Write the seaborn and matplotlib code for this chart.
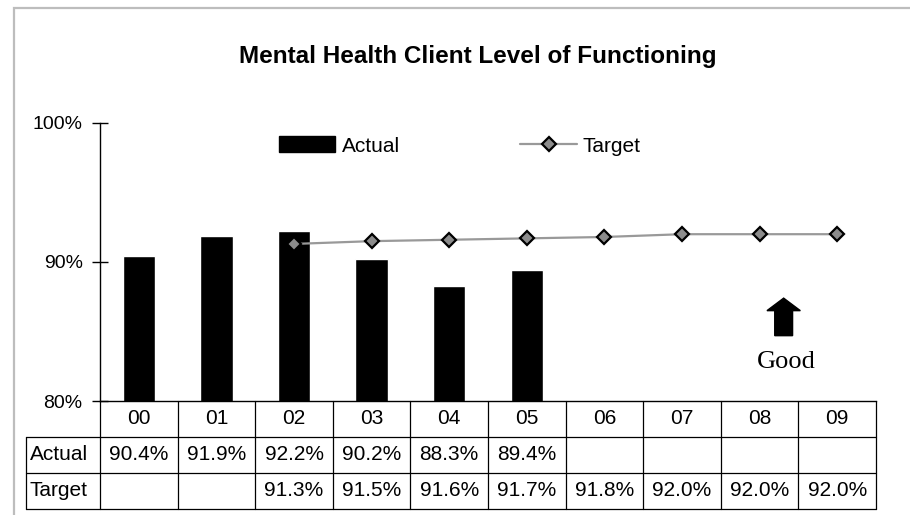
import numpy as np
import pandas as pd
import matplotlib
matplotlib.use("Agg")
import matplotlib.pyplot as plt
import matplotlib.transforms as mtransforms
from matplotlib.patches import Rectangle, Patch, FancyArrow
from matplotlib.lines import Line2D
import seaborn as sns

# ---- data ----
years = ["00", "01", "02", "03", "04", "05", "06", "07", "08", "09"]
actual = [90.4, 91.9, 92.2, 90.2, 88.3, 89.4, None, None, None, None]
target = [None, None, 91.3, 91.5, 91.6, 91.7, 91.8, 92.0, 92.0, 92.0]
y_ticks = [80, 90, 100]
title = "Mental Health Client Level of Functioning"

sns.set_theme(style="white")
plt.rcParams["font.family"] = ["Liberation Sans", "DejaVu Sans"]
plt.rcParams["text.color"] = "black"
plt.rcParams["ytick.color"] = "black"
plt.rcParams["xtick.color"] = "black"
plt.rcParams["ytick.labelcolor"] = "black"

W, H = 910, 515
fig = plt.figure(figsize=(W / 100, H / 100), dpi=100)
fig.patch.set_facecolor("white")


def fx(px):
    return px / W


def fy(py):
    return 1 - py / H


# plot area in pixel layout
AX_L, AX_R, AX_T, AX_B = 100, 876, 123, 401
ax = fig.add_axes([fx(AX_L), fy(AX_B), fx(AX_R - AX_L), (AX_B - AX_T) / H])
ax.set_facecolor("white")

df = pd.DataFrame({"year": years, "actual": actual, "target": target})
df_a = df.dropna(subset=["actual"])
df_t = df.dropna(subset=["target"])

sns.barplot(data=df_a, x="year", y="actual", order=years, color="black",
            width=0.42, saturation=1, ax=ax, zorder=2)
sns.pointplot(data=df_t, x="year", y="target", order=years, color="#999999",
              markers="D", linestyles="-", ax=ax, errorbar=None,
              linewidth=1.6, markersize=7.5, markeredgewidth=1.6)
tline = ax.lines[-1]
tline.set_markerfacecolor("#8c8c8c")
tline.set_markeredgecolor("black")
tline.set_zorder(3)

ax.set_xlim(-0.5, len(years) - 0.5)
ax.set_ylim(80, 100)
ax.set_yticks(y_ticks)
ax.set_yticklabels([f"{v}%" for v in y_ticks])
ax.set_xticks([])
ax.set_xlabel("")
ax.set_ylabel("")
ax.tick_params(axis="y", direction="inout", length=11, width=1, color="black",
               labelcolor="black", labelsize=14, pad=7, left=True)
for s in ["top", "right"]:
    ax.spines[s].set_visible(False)
for s in ["left", "bottom"]:
    ax.spines[s].set_color("black")
    ax.spines[s].set_linewidth(1)

# ---- data table below the axis ----
blend = mtransforms.blended_transform_factory(ax.transData, fig.transFigure)
ROW_Y = [401, 437, 473, 509]
LAB_L = 26
lc = "black"
lw = 0.9
# horizontal rules
for y in ROW_Y[1:]:
    fig.add_artist(Line2D([fx(LAB_L), fx(AX_R)], [fy(y), fy(y)],
                          transform=fig.transFigure, color=lc, lw=lw))
# left border of label column
fig.add_artist(Line2D([fx(LAB_L), fx(LAB_L)], [fy(ROW_Y[1]), fy(ROW_Y[3])],
                      transform=fig.transFigure, color=lc, lw=lw))
# column separators aligned with the category slots
for i in range(len(years) + 1):
    fig.add_artist(Line2D([i - 0.5, i - 0.5], [fy(ROW_Y[0]), fy(ROW_Y[3])],
                          transform=blend, color=lc, lw=lw, clip_on=False))

fs = 15
for i, yr in enumerate(years):
    fig.text(i, fy((ROW_Y[0] + ROW_Y[1]) / 2), yr, transform=blend,
             fontsize=fs, ha="center", va="center")
    if actual[i] is not None:
        fig.text(i, fy((ROW_Y[1] + ROW_Y[2]) / 2), f"{actual[i]:.1f}%",
                 transform=blend, fontsize=fs, ha="center", va="center")
    if target[i] is not None:
        fig.text(i, fy((ROW_Y[2] + ROW_Y[3]) / 2), f"{target[i]:.1f}%",
                 transform=blend, fontsize=fs, ha="center", va="center")
fig.text(fx(LAB_L + 4), fy((ROW_Y[1] + ROW_Y[2]) / 2), "Actual",
         fontsize=fs, ha="left", va="center")
fig.text(fx(LAB_L + 4), fy((ROW_Y[2] + ROW_Y[3]) / 2), "Target",
         fontsize=fs, ha="left", va="center")

# ---- title ----
fig.text(fx(478), fy(57), title, fontsize=17.5, fontweight="bold",
         ha="center", va="center")

# ---- legend ----
handles = [Patch(facecolor="black", edgecolor="black"),
           Line2D([], [], color="#999999", lw=1.6, marker="D", markersize=7.5,
                  markerfacecolor="#8c8c8c", markeredgecolor="black",
                  markeredgewidth=1.6)]
fig.legend(handles, ["Actual", "Target"], loc="center",
           bbox_to_anchor=(fx(460), fy(146)), ncol=2, frameon=False,
           fontsize=15, handlelength=2.7, handleheight=0.8,
           columnspacing=5.8, handletextpad=0.3, labelcolor="black")

# ---- "Good" direction arrow ----
ax.add_patch(FancyArrow(8.31, 84.7, 0, 2.7, width=0.23, head_width=0.43,
                        head_length=0.9, length_includes_head=True,
                        color="black", zorder=4))
ax.text(8.35, 82.8, "Good", fontsize=19, family="Liberation Serif",
        ha="center", va="center")

# ---- outer frame ----
fig.add_artist(Rectangle((fx(14), -0.2), 1.5, fy(8) + 0.2,
                         transform=fig.transFigure, fill=False,
                         edgecolor="#bdbdbd", lw=1.6))

fig.savefig("out.png", dpi=100)
